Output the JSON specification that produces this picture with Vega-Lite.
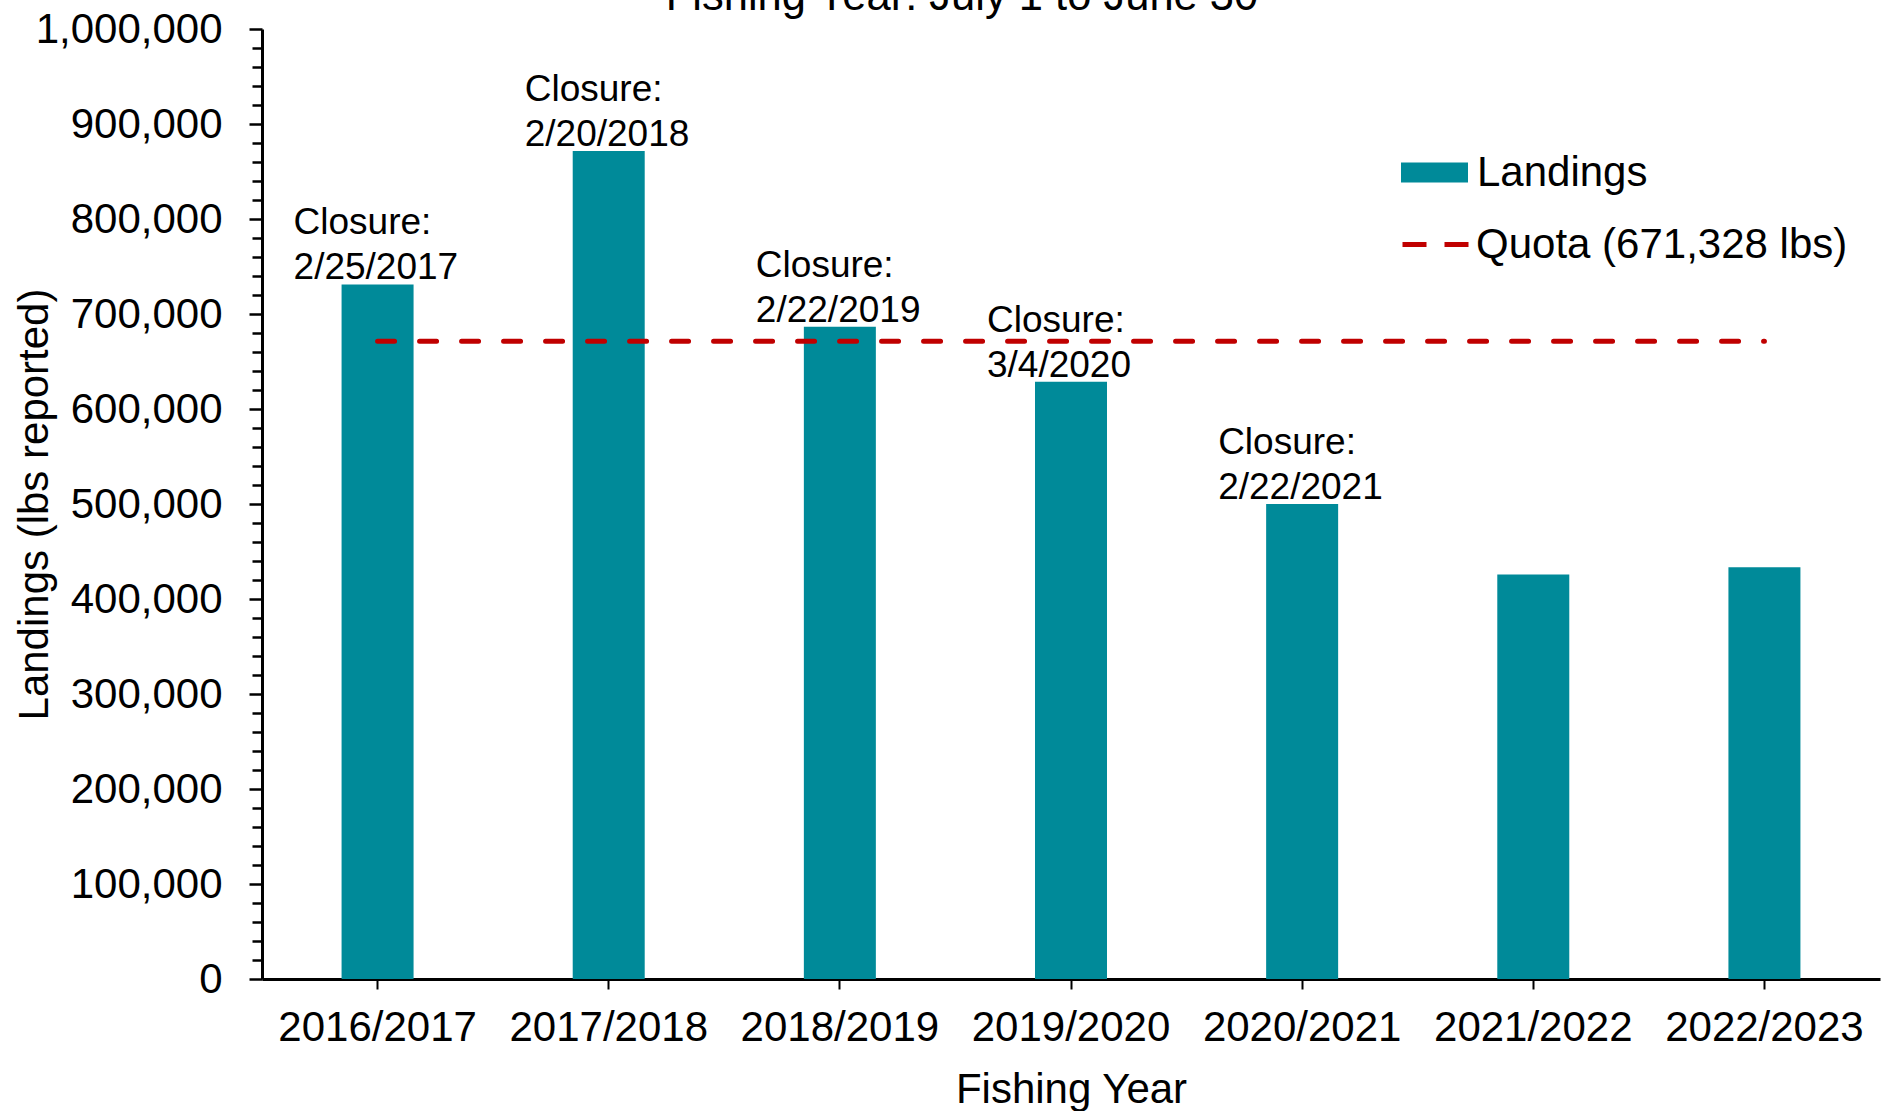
{
  "$schema": "https://vega.github.io/schema/vega-lite/v6.json",
  "autosize": "none",
  "width": 1618,
  "height": 950,
  "padding": {"left": 262, "top": 29, "right": 12, "bottom": 132},
  "background": "white",
  "config": {
    "font": "Liberation Sans",
    "view": {"stroke": null},
    "legend": {"padding": 0}
  },
  "title": {
    "text": "Fishing Year: July 1 to June 30",
    "fontSize": 43.5,
    "fontWeight": "normal",
    "font": "Liberation Sans",
    "color": "black",
    "anchor": "middle",
    "dx": -109,
    "dy": 11,
    "offset": 0
  },
  "datasets": {
    "landings": [
      {"year": "2016/2017", "landings": 731100, "closure": "Closure:\n2/25/2017"},
      {"year": "2017/2018", "landings": 871500, "closure": "Closure:\n2/20/2018"},
      {"year": "2018/2019", "landings": 686500, "closure": "Closure:\n2/22/2019"},
      {"year": "2019/2020", "landings": 628600, "closure": "Closure:\n3/4/2020"},
      {"year": "2020/2021", "landings": 500100, "closure": "Closure:\n2/22/2021"},
      {"year": "2021/2022", "landings": 425800, "closure": null},
      {"year": "2022/2023", "landings": 433400, "closure": null}
    ],
    "quota": [
      {"start": "2016/2017", "end": "2022/2023", "quota": 671328}
    ]
  },
  "layer": [
    {
      "data": {"name": "landings"},
      "mark": {"type": "bar"},
      "encoding": {
        "x": {
          "field": "year",
          "type": "nominal",
          "sort": null,
          "scale": {"paddingInner": 0.6885, "paddingOuter": 0.34425},
          "axis": {
            "title": "Fishing Year",
            "titleFontSize": 42,
            "titleFontWeight": "normal",
            "titleColor": "black",
            "titlePadding": 21,
            "labelFontSize": 42,
            "labelColor": "black",
            "labelAngle": 0,
            "labelPadding": 18,
            "labelLimit": 400,
            "tickSize": 10,
            "tickWidth": 2,
            "tickColor": "black",
            "domainWidth": 3,
            "domainColor": "black",
            "grid": false
          }
        },
        "y": {
          "field": "landings",
          "type": "quantitative",
          "scale": {"domain": [0, 1000000], "nice": false},
          "axis": {
            "title": "Landings (lbs reported)",
            "titleFontSize": 42,
            "titleFontWeight": "normal",
            "titleColor": "black",
            "titleX": -215,
            "titleBaseline": "alphabetic",
            "labelFontSize": 42,
            "labelColor": "black",
            "labelPadding": 27,
            "labelOverlap": false,
            "labelLimit": 400,
            "tickCount": 200,
            "labelExpr": "datum.value % 100000 === 0 ? format(datum.value, ',') : ''",
            "values": [0,20000,40000,60000,80000,100000,120000,140000,160000,180000,200000,220000,240000,260000,280000,300000,320000,340000,360000,380000,400000,420000,440000,460000,480000,500000,520000,540000,560000,580000,600000,620000,640000,660000,680000,700000,720000,740000,760000,780000,800000,820000,840000,860000,880000,900000,920000,940000,960000,980000,1000000],
            "tickSize": {"condition": {"test": "datum.value % 100000 === 0", "value": 13}, "value": 10},
            "tickWidth": 2.5,
            "tickColor": "black",
            "domainWidth": 3,
            "domainColor": "black",
            "grid": false
          }
        },
        "fill": {
          "datum": "Landings",
          "type": "nominal",
          "scale": {"range": ["#008A99"]},
          "legend": {
            "title": null,
            "orient": "none",
            "legendX": 1139,
            "legendY": 110,
            "symbolType": "M-1,-0.3L1,-0.3L1,0.3L-1,0.3Z",
            "symbolSize": 4489,
            "symbolStrokeWidth": 0,
            "symbolOpacity": 1,
            "labelFontSize": 42,
            "labelColor": "black",
            "labelOffset": 9,
            "labelLimit": 600
          }
        }
      }
    },
    {
      "data": {"name": "quota"},
      "mark": {"type": "rule", "strokeWidth": 5, "strokeDash": [17, 25], "strokeCap": "round"},
      "encoding": {
        "x": {"field": "start", "type": "nominal", "sort": null},
        "x2": {"field": "end"},
        "y": {"field": "quota", "type": "quantitative"},
        "stroke": {
          "datum": "Quota (671,328 lbs)",
          "type": "nominal",
          "scale": {"range": ["#C00000"]},
          "legend": {
            "title": null,
            "orient": "none",
            "legendX": 1138,
            "legendY": 180,
            "symbolType": "stroke",
            "symbolSize": 4356,
            "symbolStrokeWidth": 5,
            "symbolDash": [24, 18],
            "labelFontSize": 42,
            "labelColor": "black",
            "labelOffset": 5,
            "labelLimit": 600
          }
        }
      }
    },
    {
      "data": {"name": "landings"},
      "transform": [{"filter": "isValid(datum.closure)"}],
      "mark": {
        "type": "text",
        "align": "left",
        "baseline": "bottom",
        "dx": -84,
        "dy": -42,
        "fontSize": 37,
        "lineHeight": 45,
        "lineBreak": "\n",
        "color": "black"
      },
      "encoding": {
        "x": {"field": "year", "type": "nominal", "sort": null},
        "y": {"field": "landings", "type": "quantitative"},
        "text": {"field": "closure", "type": "nominal"}
      }
    }
  ]
}
